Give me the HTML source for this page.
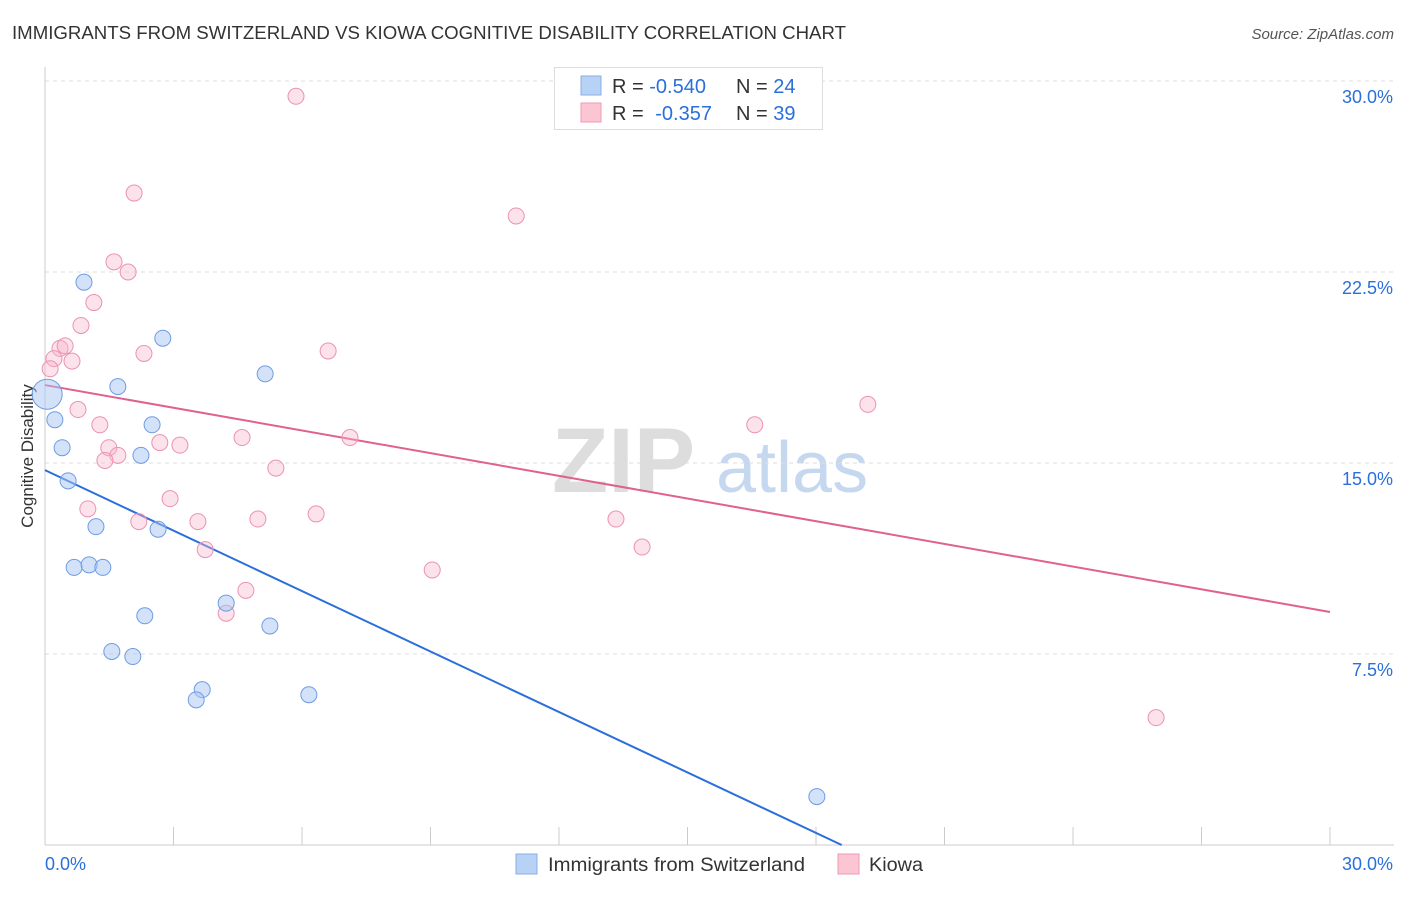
<!DOCTYPE html>
<html><head><meta charset="utf-8"><style>
body{margin:0;background:#fff;font-family:"Liberation Sans",sans-serif;}
svg text{font-family:"Liberation Sans",sans-serif;}
</style></head><body>
<svg id="chart" width="1406" height="892" viewBox="0 0 1406 892" xmlns="http://www.w3.org/2000/svg">
<text x="12" y="39" font-size="18" fill="#333" textLength="834" lengthAdjust="spacingAndGlyphs">IMMIGRANTS FROM SWITZERLAND VS KIOWA COGNITIVE DISABILITY CORRELATION CHART</text>
<text x="1394" y="39" font-size="15" fill="#555" text-anchor="end" font-style="italic">Source: ZipAtlas.com</text>
<text transform="translate(33,456) rotate(-90)" font-size="17" fill="#333" text-anchor="middle">Cognitive Disability</text>
<g>
<text x="552" y="492" font-size="92" fill="#ddd" font-family="Liberation Serif" font-weight="bold">ZIP</text>
<text x="716" y="492" font-size="72" fill="#c6d8f0">atlas</text>
</g>
<g id="grid"></g><g id="axes"></g><g id="lines"></g><g id="points"></g>
<g>
<rect x="554.5" y="67.5" width="268" height="62" fill="#fff" stroke="#ddd"/>
<rect x="581" y="76" width="20" height="19" fill="#b8d2f6" stroke="#88aee6"/>
<rect x="581" y="103" width="20" height="19" fill="#fbc5d4" stroke="#ee9ab4"/>
<text x="612" y="93" font-size="20" fill="#333">R = <tspan fill="#2a6fdb">-0.540</tspan></text>
<text x="736" y="93" font-size="20" fill="#333">N = <tspan fill="#2a6fdb">24</tspan></text>
<text x="612" y="120" font-size="20" fill="#333">R = <tspan dx="6" fill="#2a6fdb">-0.357</tspan></text>
<text x="736" y="120" font-size="20" fill="#333">N = <tspan fill="#2a6fdb">39</tspan></text>
</g>
<g>
<rect x="516" y="854" width="21" height="20" fill="#b8d2f6" stroke="#88aee6"/>
<text x="548" y="871" font-size="19" fill="#333" textLength="257" lengthAdjust="spacingAndGlyphs">Immigrants from Switzerland</text>
<rect x="838" y="854" width="21" height="20" fill="#fbc5d4" stroke="#ee9ab4"/>
<text x="869" y="871" font-size="19" fill="#333" textLength="54" lengthAdjust="spacingAndGlyphs">Kiowa</text>
</g>
</svg>
<script>
const yTicks=[7.5,15,22.5,30];
const yTickLabels=["7.5%","15.0%","22.5%","30.0%"];
const xTicks=[0,3,6,9,12,15,18,21,24,27,30];
const blueX=[0.05,0.23,0.4,0.54,0.91,1.7,2.75,2.5,2.24,1.19,2.64,0.68,1.03,1.35,2.33,1.56,2.05,3.67,3.53,4.23,5.25,5.14,6.16,18.02];
const blueY=[17.7,16.7,15.6,14.3,22.1,18.0,19.9,16.5,15.3,12.5,12.4,10.9,11.0,10.9,9.0,7.6,7.4,6.1,5.7,9.5,8.6,18.5,5.9,1.9];
const pinkX=[5.86,2.08,11.0,1.61,1.94,1.14,0.84,0.35,0.47,0.21,0.63,0.12,2.31,6.61,0.77,1.28,1.49,1.7,1.4,2.68,3.15,4.6,7.12,5.39,2.92,1.0,2.19,3.57,4.97,6.33,3.74,13.33,13.94,9.04,4.69,4.23,16.57,19.21,25.94];
const pinkY=[29.4,25.6,24.7,22.9,22.5,21.3,20.4,19.5,19.6,19.1,19.0,18.7,19.3,19.4,17.1,16.5,15.6,15.3,15.1,15.8,15.7,16.0,16.0,14.8,13.6,13.2,12.7,12.7,12.8,13.0,11.6,12.8,11.7,10.8,10.0,9.1,16.5,17.3,5.0];
const blueTrend=[[0,14.72],[18.6,0]];
const pinkTrend=[[0,18.06],[30,9.15]];
const bigIdx=0;
const NS="http://www.w3.org/2000/svg";
const X0=45,X1=1330,Y0=845,YTOP=81;
const sx=v=>X0+(X1-X0)*v/30;
const sy=v=>Y0-(Y0-YTOP)*v/30;
function mk(t,a,p){const e=document.createElementNS(NS,t);for(const k in a)e.setAttribute(k,a[k]);p.appendChild(e);return e;}
const grid=document.getElementById('grid'),axes=document.getElementById('axes');
yTicks.forEach((t,i)=>{
 const l=mk('line',{x1:X0,x2:1394,y1:sy(t),y2:sy(t),stroke:'#ddd','stroke-dasharray':'4,4'},grid);
 
 
 const tx=mk('text',{x:1393,y:sy(t)+22,'font-size':18,fill:'#2a6fdb','text-anchor':'end'},axes);
 tx.textContent=yTickLabels[i];
 
 
});
const ax=mk('line',{x1:X0,x2:X0,y1:67,y2:Y0,stroke:'#ccc'},axes);


const bx=mk('line',{x1:X0,x2:1394,y1:Y0,y2:Y0,stroke:'#ccc'},axes);


xTicks.forEach(t=>{const l=mk('line',{x1:sx(t),x2:sx(t),y1:827,y2:Y0,stroke:'#ccc'},axes);
 
 });
[["0.0%",X0,'start'],["30.0%",1393,'end']].forEach(d=>{const t=mk('text',{x:d[1],y:870,'font-size':18,fill:'#2a6fdb','text-anchor':d[2]},axes);t.textContent=d[0];
 
 });
const lines=document.getElementById('lines'),pts=document.getElementById('points');
const bl=mk('line',{x1:sx(blueTrend[0][0]),y1:sy(blueTrend[0][1]),x2:sx(blueTrend[1][0]),y2:sy(blueTrend[1][1]),stroke:'#2a6fdb','stroke-width':2},lines);


const pl=mk('line',{x1:sx(pinkTrend[0][0]),y1:sy(pinkTrend[0][1]),x2:sx(pinkTrend[1][0]),y2:sy(pinkTrend[1][1]),stroke:'#e0608f','stroke-width':2},lines);


pinkX.forEach((v,i)=>{const c=mk('circle',{cx:sx(v),cy:sy(pinkY[i]),r:8,fill:'rgba(248,182,202,0.4)',stroke:'#eb93b0','stroke-width':1},pts);
 
 });
blueX.forEach((v,i)=>{const c=mk('circle',{cx:sx(v),cy:sy(blueY[i]),r:i===bigIdx?15:8,fill:'rgba(168,198,244,0.5)',stroke:'#6e9ce2','stroke-width':1},pts);
 
 });
</script>
</body></html>
